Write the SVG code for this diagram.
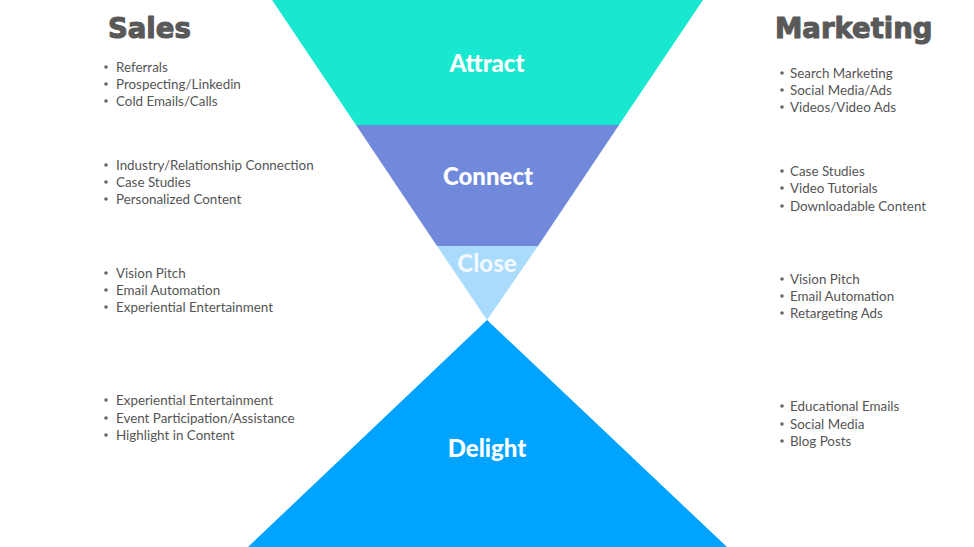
<svg xmlns="http://www.w3.org/2000/svg" width="974" height="547" viewBox="0 0 974 547">
<style>
.hdr{font-family:"DejaVu Sans",Lato,sans-serif;font-weight:bold;font-size:27.5px;fill:#595959;stroke:#595959;stroke-width:1.1px;stroke-linejoin:round}
.stage{font-family:Lato,"Open Sans",sans-serif;font-weight:900;font-size:24px;fill:#ffffff;text-anchor:middle}
.item{font-family:Lato,"Open Sans",sans-serif;font-size:13.4px;fill:#555555}
.dot{fill:#666666}
</style>
<rect width="974" height="547" fill="#ffffff"/>
<g id="attract">
<polygon points="272,0 703,0 619,125 356,125" fill="#19E8D0"/>
<text class="stage" x="487" y="72">Attract</text>
</g>
<g id="connect">
<polygon points="356,125 619,125 538,246 437,246" fill="#7089DB"/>
<text class="stage" x="488" y="185">Connect</text>
</g>
<g id="close">
<polygon points="437,246 538,246 487,320" fill="#A9DBFC"/>
<text class="stage" x="487" y="272" fill-opacity="0.85">Close</text>
</g>
<g id="delight">
<polygon points="487,320 727,547 248,547" fill="#00A3FF"/>
<text class="stage" x="487" y="457">Delight</text>
</g>
<g id="connectors"></g>
<g id="sales">
<text class="hdr" x="108" y="38">Sales</text>
<g class="dot">
<circle cx="106" cy="67" r="1.8"/><circle cx="106" cy="84" r="1.8"/><circle cx="106" cy="101" r="1.8"/>
<circle cx="106" cy="165" r="1.8"/><circle cx="106" cy="182" r="1.8"/><circle cx="106" cy="199" r="1.8"/>
<circle cx="106" cy="273" r="1.8"/><circle cx="106" cy="290" r="1.8"/><circle cx="106" cy="307" r="1.8"/>
<circle cx="106" cy="400" r="1.8"/><circle cx="106" cy="418" r="1.8"/><circle cx="106" cy="435" r="1.8"/>
</g>
<text class="item" x="116" y="72">Referrals</text>
<text class="item" x="116" y="89">Prospecting/Linkedin</text>
<text class="item" x="116" y="106">Cold Emails/Calls</text>
<text class="item" x="116" y="170">Industry/Relationship Connection</text>
<text class="item" x="116" y="187">Case Studies</text>
<text class="item" x="116" y="204">Personalized Content</text>
<text class="item" x="116" y="278">Vision Pitch</text>
<text class="item" x="116" y="295">Email Automation</text>
<text class="item" x="116" y="312">Experiential Entertainment</text>
<text class="item" x="116" y="405">Experiential Entertainment</text>
<text class="item" x="116" y="423">Event Participation/Assistance</text>
<text class="item" x="116" y="440">Highlight in Content</text>
</g>
<g id="marketing">
<text class="hdr" x="775" y="38">Marketing</text>
<g class="dot">
<circle cx="782" cy="73" r="1.8"/><circle cx="782" cy="90" r="1.8"/><circle cx="782" cy="107" r="1.8"/>
<circle cx="782" cy="171" r="1.8"/><circle cx="782" cy="188" r="1.8"/><circle cx="782" cy="206" r="1.8"/>
<circle cx="782" cy="279" r="1.8"/><circle cx="782" cy="296" r="1.8"/><circle cx="782" cy="313" r="1.8"/>
<circle cx="782" cy="406" r="1.8"/><circle cx="782" cy="424" r="1.8"/><circle cx="782" cy="441" r="1.8"/>
</g>
<text class="item" x="790" y="78">Search Marketing</text>
<text class="item" x="790" y="95">Social Media/Ads</text>
<text class="item" x="790" y="112">Videos/Video Ads</text>
<text class="item" x="790" y="176">Case Studies</text>
<text class="item" x="790" y="193">Video Tutorials</text>
<text class="item" x="790" y="211">Downloadable Content</text>
<text class="item" x="790" y="284">Vision Pitch</text>
<text class="item" x="790" y="301">Email Automation</text>
<text class="item" x="790" y="318">Retargeting Ads</text>
<text class="item" x="790" y="411">Educational Emails</text>
<text class="item" x="790" y="429">Social Media</text>
<text class="item" x="790" y="446">Blog Posts</text>
</g>
</svg>
